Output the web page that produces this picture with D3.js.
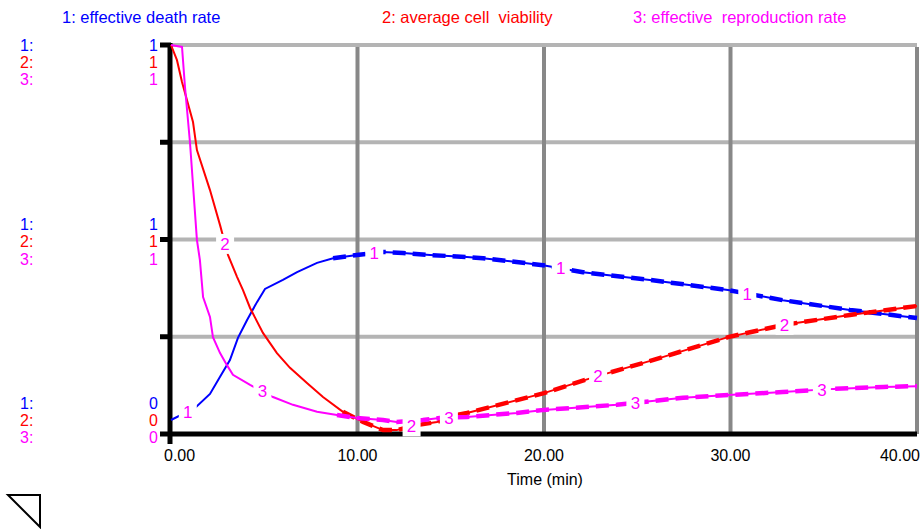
<!DOCTYPE html>
<html>
<head>
<meta charset="utf-8">
<script src="https://cdn.jsdelivr.net/npm/d3@7"></script>
<style>
  body { margin: 0; background: #fff; }
  text { font-family: "Liberation Sans", Arial, sans-serif; white-space: pre; }
</style>
</head>
<body>
<svg id="chart"></svg>
<script>
// series values, time in minutes
const deathRate = [
  [0, 0.036], [1.29, 0.067], [2.09, 0.103], [2.63, 0.147], [3.16, 0.19], [3.59, 0.247],
  [4.08, 0.293], [4.61, 0.339], [5.04, 0.373], [6.0, 0.396], [6.76, 0.416], [7.83, 0.44],
  [8.69, 0.452], [9.97, 0.46], [11.37, 0.468], [12.44, 0.465], [13.89, 0.46], [15.87, 0.455],
  [16.73, 0.452], [19.95, 0.434], [22.09, 0.416], [25.68, 0.396], [29.87, 0.37], [32.8, 0.344],
  [36.4, 0.319], [40, 0.298]
];
const cellViability = [
  [0, 1.0], [0.32, 0.961], [0.59, 0.905], [1.18, 0.802], [1.39, 0.73], [2.09, 0.627],
  [2.63, 0.537], [3.06, 0.46], [3.54, 0.404], [3.86, 0.37], [4.24, 0.324], [4.93, 0.26],
  [5.68, 0.208], [6.38, 0.17], [7.29, 0.131], [8.15, 0.095], [9.22, 0.057], [10.3, 0.031],
  [11.37, 0.01], [12.1, 0.01], [13.2, 0.023], [14.26, 0.031], [15.3, 0.049], [15.87, 0.054],
  [20.0, 0.105], [22.6, 0.145], [25.7, 0.188], [29.87, 0.249], [32.8, 0.28], [36.4, 0.306],
  [40, 0.329]
];
const reproRate = [
  [0, 1.0], [0.59, 0.995], [0.75, 0.892], [1.02, 0.748], [1.39, 0.499], [1.55, 0.447],
  [1.72, 0.352], [2.09, 0.301], [2.25, 0.249], [2.63, 0.208], [3.0, 0.177], [3.32, 0.152],
  [4.24, 0.126], [5.47, 0.095], [6.54, 0.075], [7.83, 0.057], [8.9, 0.049], [9.97, 0.041],
  [11.37, 0.036], [12.1, 0.031], [13.5, 0.036], [14.4, 0.041], [15.87, 0.044], [18.55, 0.054],
  [20, 0.062], [23.9, 0.075], [27.45, 0.093], [29.87, 0.1], [32.8, 0.108], [35.5, 0.116],
  [38.2, 0.121], [40, 0.123]
];

const seriesNames = ["1: effective death rate", "2: average cell  viability", "3: effective  reproduction rate"];
const seriesColors = ["#0000ff", "#ff0000", "#ff00ff"];
const labelTimes = [[0.9, 10.9, 20.9, 30.9], [2.9, 12.9, 22.9, 32.9], [4.9, 14.9, 24.9, 34.9]];
const xTicks = [0, 10, 20, 30, 40];
const xTickLabels = ["0.00", "10.00", "20.00", "30.00", "40.00"];
const yTicks = [0, 0.25, 0.5, 0.75, 1];
const yGroupLabels = [["1", "1", "1"], ["1", "1", "1"], ["0", "0", "0"]];
const yGroupValues = [1, 0.5, 0];

const W = 922, H = 529;
const svg = d3.select("#chart").attr("width", W).attr("height", H);

const x = d3.scaleLinear().domain([0, 40]).range([171, 917]);
const y = d3.scaleLinear().domain([0, 1]).range([434, 45]);

// grid
svg.selectAll(".hgrid")
  .data(yTicks.filter(d => d > 0))
  .enter().append("line")
  .attr("x1", x(0)).attr("x2", x(40))
  .attr("y1", d => y(d)).attr("y2", d => y(d))
  .attr("stroke", "#b4b4b4").attr("stroke-width", 4);

svg.selectAll(".vgrid")
  .data(xTicks.filter(d => d > 0))
  .enter().append("line")
  .attr("x1", d => x(d)).attr("x2", d => x(d))
  .attr("y1", y(1) + 2).attr("y2", y(0))
  .attr("stroke", "#888").attr("stroke-width", 4);

// axes
svg.append("line")
  .attr("x1", x(0) - 1).attr("x2", x(0) - 1)
  .attr("y1", y(1) - 2).attr("y2", y(0) + 10)
  .attr("stroke", "#000").attr("stroke-width", 5);
svg.append("line")
  .attr("x1", x(0) - 11).attr("x2", x(40))
  .attr("y1", y(0)).attr("y2", y(0))
  .attr("stroke", "#000").attr("stroke-width", 5);
svg.selectAll(".ytick")
  .data(yTicks.filter(d => d > 0))
  .enter().append("line")
  .attr("x1", x(0) - 11).attr("x2", x(0))
  .attr("y1", d => y(d)).attr("y2", d => y(d))
  .attr("stroke", "#000").attr("stroke-width", 5);

// x tick labels
svg.selectAll(".xlab")
  .data(xTicks)
  .enter().append("text")
  .attr("x", (d, i) => i === 0 ? x(d) - 7 : (i === xTicks.length - 1 ? x(d) + 3 : x(d)))
  .attr("y", 461)
  .attr("text-anchor", (d, i) => i === 0 ? "start" : (i === xTicks.length - 1 ? "end" : "middle"))
  .style("font-size", "16px")
  .attr("fill", "#000")
  .text((d, i) => xTickLabels[i]);

svg.append("text")
  .attr("x", 545).attr("y", 485)
  .attr("text-anchor", "middle")
  .style("font-size", "16px")
  .text("Time (min)");

// left scale labels
const groupOffsets = [[6, 23, 40], [-10, 7, 25], [-25, -8, 9]];
yGroupValues.forEach((v, g) => {
  [0, 1, 2].forEach(s => {
    const yy = y(v) + groupOffsets[g][s];
    svg.append("text")
      .attr("x", 20).attr("y", yy)
      .style("font-size", "16px")
      .attr("fill", seriesColors[s])
      .text((s + 1) + ":");
    svg.append("text")
      .attr("x", 158).attr("y", yy)
      .attr("text-anchor", "end")
      .style("font-size", "16px")
      .attr("fill", seriesColors[s])
      .text(yGroupLabels[g][s]);
  });
});

// legend titles
const titleX = [62, 382, 633];
seriesNames.forEach((n, i) => {
  svg.append("text")
    .attr("x", titleX[i]).attr("y", 23)
    .style("font-size", "16.5px")
    .attr("fill", seriesColors[i])
    .text(n);
});

// lines
const allSeries = [deathRate, cellViability, reproRate];
const line = d3.line().x(d => x(d[0])).y(d => y(d[1]));

allSeries.forEach((data, i) => {
  svg.append("path")
    .datum(data)
    .attr("fill", "none")
    .attr("stroke", seriesColors[i])
    .attr("stroke-width", 2)
    .attr("d", line);
  svg.append("path")
    .datum(data.filter(d => d[0] >= 8.5))
    .attr("fill", "none")
    .attr("stroke", seriesColors[i])
    .attr("stroke-width", 4.5)
    .attr("stroke-dasharray", "13,7")
    .attr("d", line);
});

// series number labels on the lines
function valueAt(data, t) {
  const bis = d3.bisector(d => d[0]).left;
  const j = Math.max(1, Math.min(data.length - 1, bis(data, t)));
  const a = data[j - 1], b = data[j];
  return a[1] + (b[1] - a[1]) * (t - a[0]) / (b[0] - a[0]);
}

allSeries.forEach((data, i) => {
  labelTimes[i].forEach(t => {
    const px = x(t), py = y(valueAt(data, t));
    svg.append("rect")
      .attr("x", px - 9).attr("y", py - 10)
      .attr("width", 18).attr("height", 20)
      .attr("fill", "#fff");
    svg.append("text")
      .attr("x", px).attr("y", py + 6)
      .attr("text-anchor", "middle")
      .style("font-size", "17px")
      .attr("fill", "#ff00ff")
      .text(i + 1);
  });
});

// page-turn icon
svg.append("path")
  .attr("d", "M8,495 L40,495 L40,527 Z")
  .attr("fill", "none")
  .attr("stroke", "#000")
  .attr("stroke-width", 2);
</script>
</body>
</html>
